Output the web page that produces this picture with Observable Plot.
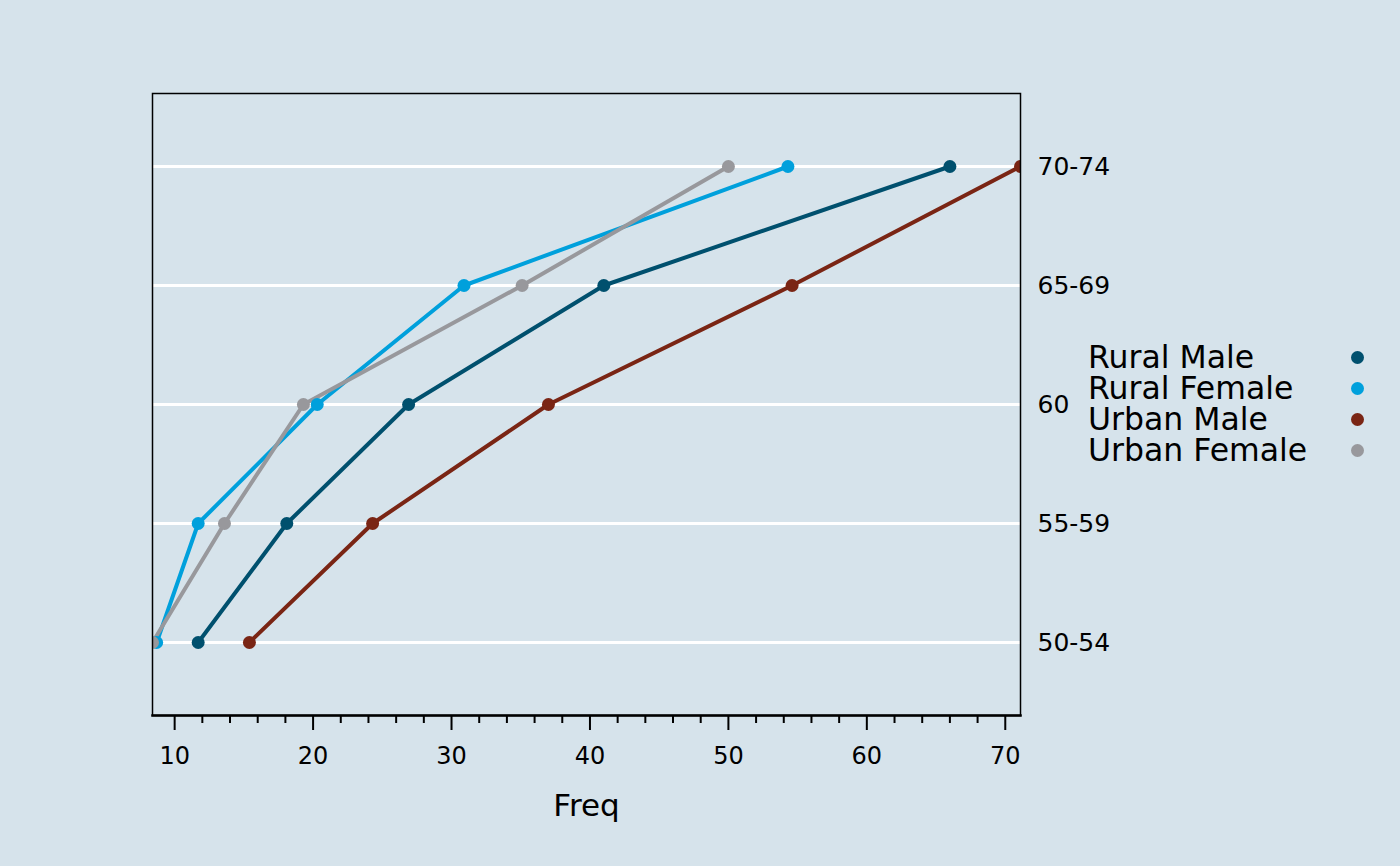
<!DOCTYPE html>
<html>
<head>
<meta charset="utf-8">
<script src="https://cdn.jsdelivr.net/npm/d3@7"></script>
<script src="https://cdn.jsdelivr.net/npm/@observablehq/plot@0.6"></script>
<style>
  html, body { margin: 0; padding: 0; background: #d6e3eb; }
  #wrap { position: relative; width: 1400px; height: 866px; font-family: "DejaVu Sans", sans-serif; }
  #legend { position: absolute; left: 1088px; top: 342px; width: 290px; }
  .row { position: relative; height: 31px; line-height: 31px; font-size: 31.5px; color: #000; }
  .dot { position: absolute; left: 263px; top: 9px; width: 13px; height: 13px; border-radius: 50%; }
</style>
</head>
<body>
<div id="wrap"><div id="legend"></div></div>
<script>
const ageGroups = ["50-54", "55-59", "60-64", "65-69", "70-74"];
const ageTickLabels = ["50-54", "55-59", "60", "65-69", "70-74"];
const seriesNames = ["Rural Male", "Rural Female", "Urban Male", "Urban Female"];
const seriesColors = ["#00506e", "#00a0dc", "#7a2514", "#98989c"];
const ruralMale = [11.7, 18.1, 26.9, 41.0, 66.0];
const ruralFemale = [8.7, 11.7, 20.3, 30.9, 54.3];
const urbanMale = [15.4, 24.3, 37.0, 54.6, 71.1];
const urbanFemale = [8.4, 13.6, 19.3, 35.1, 50.0];
const majorTicks = [10, 20, 30, 40, 50, 60, 70];
const minorTicks = [12, 14, 16, 18, 22, 24, 26, 28, 32, 34, 36, 38, 42, 44, 46, 48, 52, 54, 56, 58, 62, 64, 66, 68];

const values = [ruralMale, ruralFemale, urbanMale, urbanFemale];
const data = [];
seriesNames.forEach((s, i) => values[i].forEach((v, j) => data.push({series: s, age: ageGroups[j], freq: v})));
const tickLabelOf = new Map(ageGroups.map((a, i) => [a, ageTickLabels[i]]));

const chart = Plot.plot({
  width: 1400,
  height: 866,
  marginLeft: 152,
  marginRight: 380,
  marginTop: 93,
  marginBottom: 151,
  style: {background: "transparent", fontFamily: "DejaVu Sans, sans-serif", color: "black"},
  x: {domain: [d3.min(data, d => d.freq), d3.max(data, d => d.freq)], label: null},
  y: {domain: ageGroups.slice().reverse(), type: "point", padding: 0.6, label: null},
  color: {domain: seriesNames, range: seriesColors},
  marks: [
    Plot.gridY({stroke: "white", strokeOpacity: 1, strokeWidth: 3}),
    Plot.line(data, {x: "freq", y: "age", z: "series", stroke: "series", strokeWidth: 4, clip: true}),
    Plot.dot(data, {x: "freq", y: "age", fill: "series", r: 6.5, clip: true}),
    Plot.frame({stroke: "black", strokeWidth: 1.5}),
    Plot.frame({anchor: "bottom", stroke: "black", strokeWidth: 2.5}),
    Plot.axisX({ticks: majorTicks, tickSize: 15, tickPadding: 16, fontSize: 24, strokeWidth: 2, label: null}),
    Plot.axisX({ticks: minorTicks, tickSize: 8, tickFormat: () => "", strokeWidth: 2, label: null}),
    Plot.axisY({anchor: "right", tickSize: 0, tickPadding: 17, fontSize: 25, tickFormat: d => tickLabelOf.get(d), label: null}),
    Plot.text(["Freq"], {frameAnchor: "bottom", dy: 91, fontSize: 31, textAnchor: "middle", lineAnchor: "middle", fill: "black"})
  ]
});
document.getElementById("wrap").prepend(chart);

const legend = document.getElementById("legend");
seriesNames.forEach((s, i) => {
  const row = document.createElement("div");
  row.className = "row";
  row.textContent = s;
  const dot = document.createElement("span");
  dot.className = "dot";
  dot.style.background = seriesColors[i];
  row.appendChild(dot);
  legend.appendChild(row);
});
</script>
</body>
</html>
